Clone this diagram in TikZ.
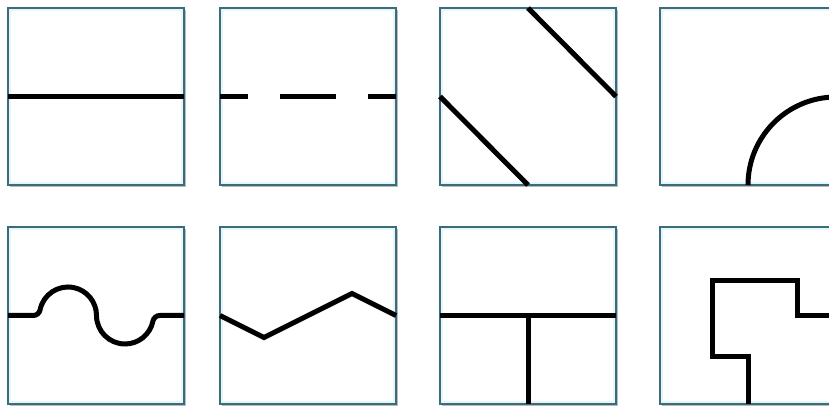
\documentclass[tikz,border=0pt]{standalone}
\usepackage{xcolor}
\usepackage{tikz}
\usetikzlibrary{calc,shadows}
\definecolor{cTileL}{HTML}{3C6B7B}
\definecolor{cTileG}{HTML}{E4F6FA}
\definecolor{cPath}{HTML}{000000}
\tikzset{
  tilebox/.style={draw=cTileL,fill=white,line width=1.1pt,minimum width=176pt,
      minimum height=177pt,inner sep=0pt,outer sep=0pt,
      drop shadow={shadow xshift=1.8pt,shadow yshift=-1.8pt,fill=black!45,opacity=0.6}},
  tileglow/.style={draw=cTileG,line width=2.5pt},
  trace/.style={draw=cPath,line width=5pt,line cap=butt,line join=miter},
  tracedash/.style={trace,dash pattern=on 56pt off 32pt,dash phase=28pt},
}
\newcommand{\tile}[3]{%
  \node[tilebox] (#1) at (#2,#3) {};
  \draw[tileglow] ($(#1.south west)+(2pt,2pt)$) rectangle ($(#1.north east)-(2pt,2pt)$);}
\begin{document}
\begin{tikzpicture}[x=1pt,y=1pt]
  \useasboundingbox (0,0) rectangle (829,406);
  \clip (0,0) rectangle (829,406);

  % top row
  \tile{tA}{96}{309.5}
  \tile{tB}{308}{309.5}
  \tile{tC}{528}{309.5}
  \tile{tD}{748}{309.5}
  % bottom row
  \tile{tE}{96}{90.5}
  \tile{tF}{308}{90.5}
  \tile{tG}{528}{90.5}
  \tile{tH}{748}{90.5}

  \draw[trace] (tA.west) -- (tA.east);
  \draw[tracedash] (tB.west) -- (tB.east);
  \draw[trace] (tC.north) -- (tC.east) (tC.west) -- (tC.south);
  \draw[trace] (tD.south) arc[start angle=180,end angle=90,radius=88];

  \draw[trace] (tE.west) -- ++(25.2,0)
    arc[start angle=-90,end angle=-11.37,radius=7]
    arc[start angle=168.63,end angle=0,radius=28.5]
    arc[start angle=180,end angle=348.63,radius=28.5]
    arc[start angle=168.63,end angle=90,radius=7] -- (tE.east);
  \draw[trace] (tF.west) -- ++(44,-22) -- ++(88,44) -- (tF.east);
  \draw[trace] (tG.west) -- (tG.east) (tG.center) -- (tG.south);
  \draw[trace] (tH.east) -- ++(-39,0) -- ++(0,35) -- ++(-85,0) -- ++(0,-76)
    -- ++(36,0) -- (tH.south);
\end{tikzpicture}
\end{document}
